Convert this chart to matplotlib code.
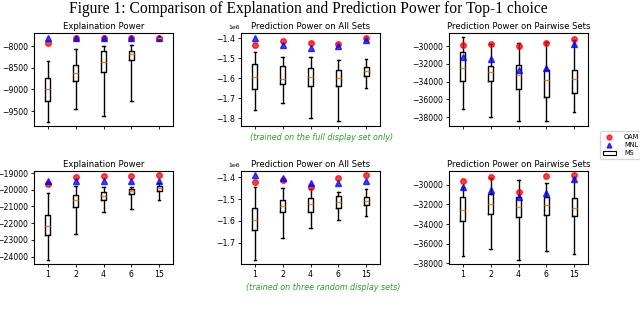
import matplotlib.pyplot as plt
from matplotlib.lines import Line2D
from matplotlib.patches import Patch
from matplotlib.ticker import MultipleLocator

SET_SIZES = ["1", "2", "4", "6", "15"]

# (whislo, q1, med, q3, whishi) per set size
TOP_EXPL_MS = [
    (-9747, -9267, -8981, -8726, -8340),
    (-9453, -8796, -8610, -8425, -8070),
    (-9623, -8587, -8371, -8108, -7985),
    (-9267, -8309, -8170, -8116, -7969),
    (-7815, -7808, -7802, -7797, -7793),
]
TOP_EXPL_OAM = [-7915, -7815, -7807, -7807, -7807]
TOP_EXPL_MNL = [-7800, -7800, -7800, -7800, -7800]

TOP_ALL_MS = [
    (-1.759e6, -1.654e6, -1.592e6, -1.528e6, -1.470e6),
    (-1.722e6, -1.631e6, -1.605e6, -1.540e6, -1.495e6),
    (-1.797e6, -1.637e6, -1.593e6, -1.547e6, -1.495e6),
    (-1.815e6, -1.639e6, -1.600e6, -1.558e6, -1.509e6),
    (-1.650e6, -1.588e6, -1.563e6, -1.543e6, -1.505e6),
]
TOP_ALL_OAM = [-1.433e6, -1.416e6, -1.426e6, -1.430e6, -1.400e6]
TOP_ALL_MNL = [-1.402e6, -1.435e6, -1.451e6, -1.441e6, -1.410e6]

TOP_PAIR_MS = [
    (-37061, -33869, -32479, -30676, -28990),
    (-38000, -33869, -32930, -32216, -29800),
    (-38413, -34770, -33230, -32141, -29662),
    (-38413, -35709, -33831, -32704, -29550),
    (-37399, -35258, -33681, -32704, -29286),
]
TOP_PAIR_OAM = [-29887, -29812, -30000, -29624, -29211]
TOP_PAIR_MNL = [-31202, -31465, -32742, -32516, -29812]

BOT_EXPL_MS = [
    (-24177, -22711, -22189, -21526, -20181),
    (-22671, -21024, -20602, -20341, -19799),
    (-21345, -20622, -20382, -20141, -19819),
    (-21145, -20281, -20100, -19960, -19819),
    (-20622, -20060, -19900, -19779, -19620),
]
BOT_EXPL_OAM = [-19680, -19261, -19161, -19161, -19100]
BOT_EXPL_MNL = [-19462, -19482, -19482, -19482, -19482]

BOT_ALL_MS = [
    (-1.777e6, -1.642e6, -1.595e6, -1.543e6, -1.443e6),
    (-1.677e6, -1.558e6, -1.534e6, -1.503e6, -1.451e6),
    (-1.631e6, -1.560e6, -1.525e6, -1.495e6, -1.454e6),
    (-1.598e6, -1.543e6, -1.515e6, -1.488e6, -1.466e6),
    (-1.577e6, -1.529e6, -1.508e6, -1.491e6, -1.454e6),
]
BOT_ALL_OAM = [-1.423e6, -1.414e6, -1.443e6, -1.403e6, -1.392e6]
BOT_ALL_MNL = [-1.388e6, -1.403e6, -1.428e6, -1.428e6, -1.417e6]

BOT_PAIR_MS = [
    (-37251, -33677, -32621, -31260, -30238),
    (-36570, -32962, -32000, -30953, -29285),
    (-37660, -33260, -32306, -31260, -29557),
    (-36770, -33089, -32102, -31260, -29830),
    (-37013, -33200, -32374, -31328, -29319),
]
BOT_PAIR_OAM = [-29626, -29183, -30783, -29081, -29047]
BOT_PAIR_MNL = [-30272, -30579, -31294, -30885, -29387]

PANELS = [
    # row, col, title, ms, oam, mnl, ylim, ytick step
    (0, 0, "Explaination Power", TOP_EXPL_MS, TOP_EXPL_OAM, TOP_EXPL_MNL, (-9847, -7691), 500),
    (0, 1, "Prediction Power on All Sets", TOP_ALL_MS, TOP_ALL_OAM, TOP_ALL_MNL, (-1.838e6, -1.375e6), 1e5),
    (0, 2, "Prediction Power on Pairwise Sets", TOP_PAIR_MS, TOP_PAIR_OAM, TOP_PAIR_MNL, (-38977, -28535), 2000),
    (1, 0, "Explaination Power", BOT_EXPL_MS, BOT_EXPL_OAM, BOT_EXPL_MNL, (-24442, -18880), 1000),
    (1, 1, "Prediction Power on All Sets", BOT_ALL_MS, BOT_ALL_OAM, BOT_ALL_MNL, (-1.797e6, -1.372e6), 1e5),
    (1, 2, "Prediction Power on Pairwise Sets", BOT_PAIR_MS, BOT_PAIR_OAM, BOT_PAIR_MNL, (-38068, -28604), 2000),
]

COL_LEFT = [34, 241, 449]
ROW_BOTTOM = [126, 264]
W, H = 640, 311

fig = plt.figure(figsize=(6.4, 3.11), dpi=100)

fig.text(
    308 / W, 1 - 9 / H,
    "Figure 1: Comparison of Explanation and Prediction Power for Top-1 choice",
    family="Liberation Serif", fontsize=11.2, ha="center", va="center",
)

positions = list(range(1, len(SET_SIZES) + 1))

for row, col, title, ms, oam, mnl, ylim, step in PANELS:
    ax = fig.add_axes([COL_LEFT[col] / W, 1 - ROW_BOTTOM[row] / H, 139 / W, 93 / H])

    stats = [
        {"whislo": lo, "q1": q1, "med": med, "q3": q3, "whishi": hi, "fliers": []}
        for lo, q1, med, q3, hi in ms
    ]
    ax.bxp(
        stats,
        positions=positions,
        widths=0.18,
        boxprops={"color": "black", "linewidth": 1.0},
        whiskerprops={"color": "black", "linewidth": 1.0},
        capprops={"color": "black", "linewidth": 1.0},
        medianprops={"color": "#ff7f0e", "linewidth": 1.0},
    )
    ax.plot(positions, oam, "o", color="red", markersize=4, alpha=0.75, linestyle="none")
    ax.plot(positions, mnl, "^", color="blue", markersize=4, alpha=0.75, linestyle="none")

    # fixed y keeps the title level even when the 1e6 offset text is shown
    ax.set_title(title, fontsize=6.1, pad=3, y=1.0)
    ax.set_ylim(*ylim)
    ax.yaxis.set_major_locator(MultipleLocator(step))
    ax.set_xlim(0.5, 5.5)
    ax.set_xticks(positions)
    if row == 0:
        ax.set_xticklabels([])
    else:
        ax.set_xticklabels(SET_SIZES)
    ax.tick_params(labelsize=5.6, length=2.5, width=0.6, pad=1.5)
    offset = ax.yaxis.get_offset_text()
    offset.set_fontsize(4.5)
    offset.set_x(-0.09)
    for spine in ax.spines.values():
        spine.set_linewidth(0.8)

fig.text(322 / W, 1 - 138 / H, "(trained on the full display set only)",
         color="#2ca02c", style="italic", fontsize=5.8, ha="center", va="center")
fig.text(323 / W, 1 - 287 / H, "(trained on three random display sets)",
         color="#2ca02c", style="italic", fontsize=5.8, ha="center", va="center")

handles = [
    Line2D([], [], marker="o", color="red", linestyle="none", markersize=3.5, alpha=0.75),
    Line2D([], [], marker="^", color="blue", linestyle="none", markersize=3.5, alpha=0.75),
    Patch(facecolor="white", edgecolor="black", linewidth=0.8),
]
fig.legend(
    handles, ["OAM", "MNL", "MS"],
    loc="upper left",
    bbox_to_anchor=(597 / W, 1 - 128 / H),
    fontsize=4.8,
    handlelength=2.0,
    handleheight=0.5,
    labelspacing=0.35,
    borderpad=0.35,
    handletextpad=1.2,
)

fig.savefig("out.png", dpi=100)
